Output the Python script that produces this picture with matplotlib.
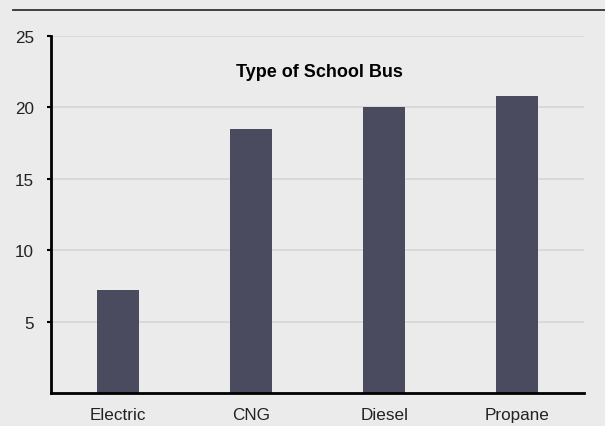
import matplotlib
matplotlib.use('Agg')
import matplotlib.pyplot as plt
from matplotlib.lines import Line2D

# values
bus_types = ['Electric', 'CNG', 'Diesel', 'Propane']
values = [7.2, 18.5, 20.05, 20.8]
y_ticks = [5, 10, 15, 20, 25]
title = 'Type of School Bus'

plt.rcParams['font.family'] = ['Liberation Sans', 'DejaVu Sans']

bg = '#ebebeb'
fig = plt.figure(figsize=(6.05, 4.27), dpi=100, facecolor=bg)
ax = fig.add_axes([51 / 605, 33 / 427, (584 - 51) / 605, (394 - 37) / 427])
ax.set_facecolor(bg)

x = list(range(len(bus_types)))
ax.bar(x, values, width=0.315, color='#4a4b5e', zorder=3)

ax.set_xlim(-0.5, 3.5)
ax.set_ylim(0, 25)
ax.set_xticks(x)
ax.set_xticklabels(bus_types, fontsize=12.3, color='#222222')
ax.set_yticks(y_ticks)
ax.set_yticklabels([str(t) for t in y_ticks], fontsize=12.3, color='#222222')
ax.tick_params(axis='x', length=0, pad=10)
ax.tick_params(axis='y', length=3, width=1.5, color='black', pad=9.5)

ax.grid(axis='y', color='#d6d6d6', linewidth=1.2, zorder=0)
for s in ['top', 'right']:
    ax.spines[s].set_visible(False)
for s in ['left', 'bottom']:
    ax.spines[s].set_linewidth(2)
    ax.spines[s].set_color('black')
    ax.spines[s].set_zorder(4)

ax.text(0.503, 0.9, title, transform=ax.transAxes, ha='center', va='center',
        fontsize=13, fontweight='bold', color='black')

# rule at the very top
fig.add_artist(Line2D([13 / 605, 1], [1 - 11 / 427, 1 - 11 / 427],
                      transform=fig.transFigure, color='#333333', linewidth=1.3))

fig.savefig('out.png', dpi=100, facecolor=bg)
